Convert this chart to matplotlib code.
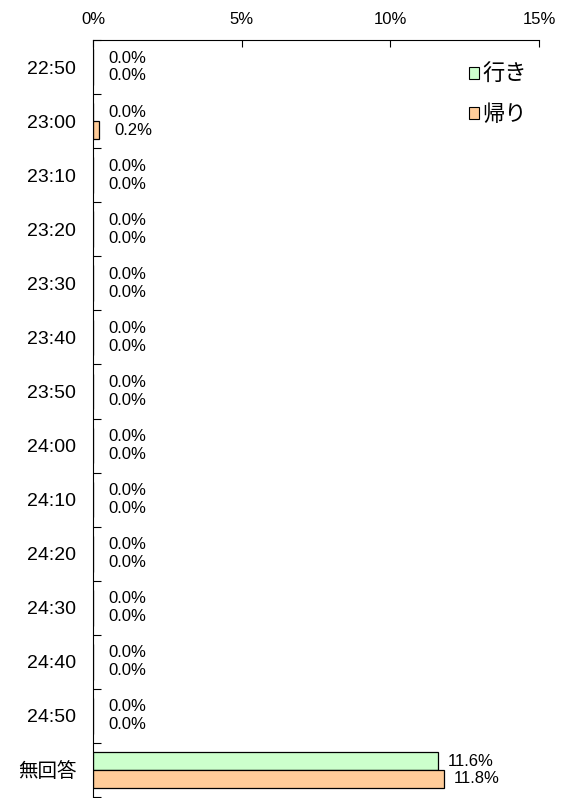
import numpy as np
import matplotlib.pyplot as plt
from matplotlib.patches import Patch
from matplotlib.ticker import FixedLocator

plt.rcParams['font.family'] = ['Liberation Sans', 'Noto Sans CJK JP', 'DejaVu Sans']

categories = ["22:50", "23:00", "23:10", "23:20", "23:30", "23:40", "23:50",
              "24:00", "24:10", "24:20", "24:30", "24:40", "24:50", "無回答"]
iki = [0.0, 0.0, 0.0, 0.0, 0.0, 0.0, 0.0, 0.0, 0.0, 0.0, 0.0, 0.0, 0.0, 11.6]
kaeri = [0.0, 0.2, 0.0, 0.0, 0.0, 0.0, 0.0, 0.0, 0.0, 0.0, 0.0, 0.0, 0.0, 11.8]
series_names = ["行き", "帰り"]
xticks = [0, 5, 10, 15]

fig = plt.figure(figsize=(5.66, 7.98), dpi=100)
ax = fig.add_axes([93/566, 1/798, 446/566, 757/798])

y = np.arange(len(categories))
h = 0.33
colors = ["#CCFFCC", "#FFCC99"]
ax.barh(y - h/2, iki, height=h, color=colors[0], edgecolor="black", linewidth=0.9)
ax.barh(y + h/2, kaeri, height=h, color=colors[1], edgecolor="black", linewidth=0.9)

for vals, off in ((iki, -h/2), (kaeri, h/2)):
    for yi, v in zip(y, vals):
        dx = 15 if v < 1 else 10
        ax.annotate(f"{v:.1f}%", xy=(v, yi + off), xytext=(dx, 0),
                    textcoords="offset pixels",
                    ha="left", va="center", fontsize=12)

ax.set_xlim(0, 15)
ax.set_ylim(len(categories) - 0.5, -0.5)
ax.xaxis.tick_top()
ax.set_xticks(xticks)
ax.set_xticklabels([f"{t}%" for t in xticks], fontsize=12)
ax.tick_params(axis="x", direction="in", length=5, pad=9, width=0.8)

ax.set_yticks(y)
ax.set_yticklabels(categories, fontsize=14)
ax.tick_params(axis="y", which="major", length=0, pad=12)
ax.yaxis.set_minor_locator(FixedLocator(np.arange(-0.5, len(categories) + 0.5, 1)))
ax.tick_params(axis="y", which="minor", direction="in", length=6, width=0.8)

for s in ("right", "bottom"):
    ax.spines[s].set_visible(False)
for s in ("top", "left"):
    ax.spines[s].set_linewidth(0.8)

handles = [Patch(facecolor=c, edgecolor="black", linewidth=0.8) for c in colors]
ax.legend(handles, series_names, loc="upper right", bbox_to_anchor=(1.018, 0.994),
          frameon=False, fontsize=16, handlelength=0.45, handleheight=0.45,
          handletextpad=0.15, labelspacing=0.85)

fig.savefig("out.png")
